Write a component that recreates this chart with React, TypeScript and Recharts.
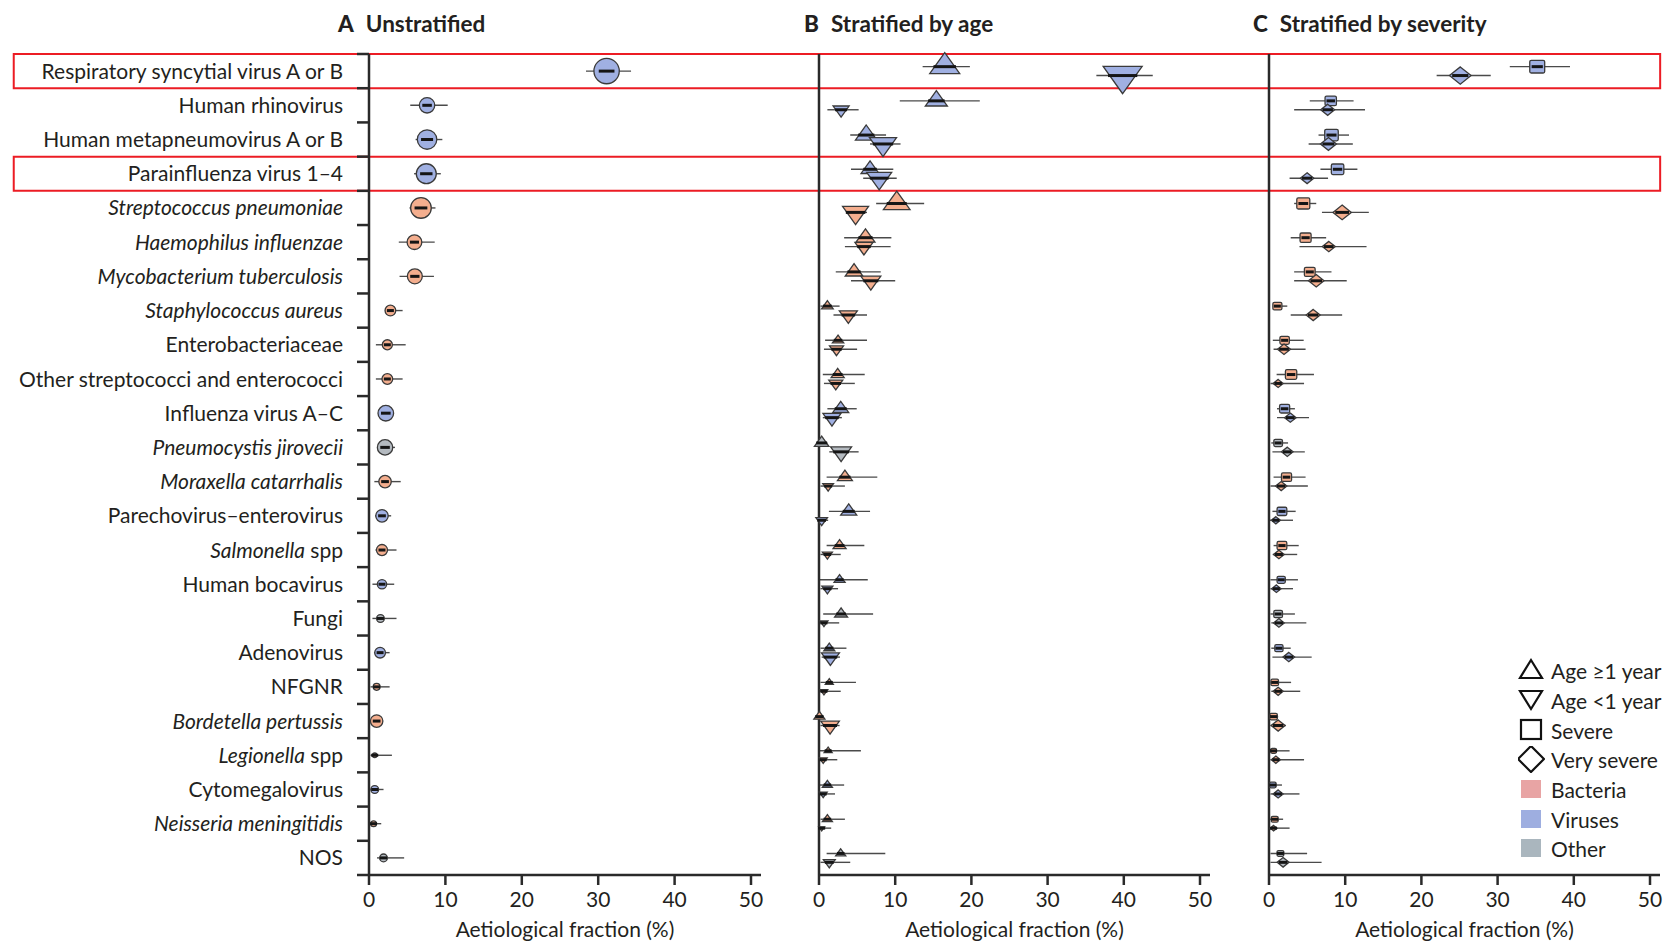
import React from 'react';
import { ScatterChart, Scatter, XAxis, YAxis, ZAxis, ErrorBar, ReferenceArea } from 'recharts';

const FONT = 'Lato, "Open Sans", sans-serif';
const INK = '#231f20';

// rows, top to bottom
const pathogens = [
  'Respiratory syncytial virus A or B', 'Human rhinovirus', 'Human metapneumovirus A or B', 'Parainfluenza virus 1–4',
  'Streptococcus pneumoniae', 'Haemophilus influenzae', 'Mycobacterium tuberculosis', 'Staphylococcus aureus',
  'Enterobacteriaceae', 'Other streptococci and enterococci', 'Influenza virus A–C', 'Pneumocystis jirovecii',
  'Moraxella catarrhalis', 'Parechovirus–enterovirus', 'Salmonella spp', 'Human bocavirus',
  'Fungi', 'Adenovirus', 'NFGNR', 'Bordetella pertussis',
  'Legionella spp', 'Cytomegalovirus', 'Neisseria meningitidis', 'NOS',
];
const italicRows = [
  false, false, false, false, true, true, true, true, false, false, false, true,
  true, false, true, false, false, false, false, true, true, false, true, false,
];
// B = bacteria, V = viruses, O = other
const groups = ['V', 'V', 'V', 'V', 'B', 'B', 'B', 'B', 'B', 'B', 'V', 'O', 'B', 'V', 'B', 'V', 'O', 'V', 'B', 'B', 'B', 'V', 'B', 'O'];
const highlighted = ['Respiratory syncytial virus A or B', 'Parainfluenza virus 1–4'];
const xTicks = [0, 10, 20, 30, 40, 50];

// A: unstratified
const allEst = [31.1, 7.6, 7.6, 7.5, 6.8, 5.95, 6.0, 2.8, 2.4, 2.4, 2.2, 2.1, 2.1, 1.7, 1.7, 1.7, 1.5, 1.45, 1.0, 1.0, 0.75, 0.75, 0.6, 1.9];
const allLo = [28.4, 5.4, 6.1, 5.9, 5.3, 3.9, 4.0, 2.1, 0.9, 0.9, 1.3, 1.05, 0.7, 0.8, 0.85, 0.45, 0.45, 0.65, 0.2, 0.4, 0.2, 0.2, 0.2, 1.05];
const allHi = [34.3, 10.3, 9.6, 9.4, 8.7, 8.6, 8.5, 4.4, 4.8, 4.4, 3.1, 3.4, 4.15, 2.9, 3.6, 3.3, 3.6, 2.7, 2.7, 1.6, 3.0, 1.9, 1.6, 4.6];
const allWt = [95, 35, 56, 59, 63, 32, 33, 17, 15, 17, 36, 35, 23, 23, 18, 13, 9, 17, 7, 23, 3, 9, 5, 9];

// B: age >=1 year
const olderEst = [16.5, 15.4, 6.2, 6.7, 10.2, 6.1, 4.6, 1.1, 2.5, 2.45, 2.85, 0.35, 3.4, 3.9, 2.7, 2.7, 2.9, 1.35, 1.35, 0.05, 1.2, 1.1, 1.1, 2.85];
const olderLo = [13.6, 10.6, 4.1, 4.2, 7.5, 3.3, 2.2, 0.2, 0.8, 0.5, 1.1, 0.0, 1.0, 1.3, 1.0, 0.05, 0.55, 0.2, 0.2, 0.0, 0.1, 0.1, 0.2, 1.0];
const olderHi = [19.8, 21.1, 8.8, 9.75, 13.8, 9.5, 8.1, 2.7, 6.3, 6.0, 4.95, 1.1, 7.65, 6.7, 5.95, 6.4, 7.1, 3.6, 4.85, 0.6, 5.5, 3.3, 3.4, 8.7];
const olderWt = [133, 72, 69, 48, 105, 53, 46, 20, 19, 25, 38, 31, 33, 38, 25, 18, 25, 18, 9.5, 18, 9.5, 15, 15, 15];

// B: age <1 year
const infantEst = [39.85, 2.9, 8.4, 7.9, 4.8, 5.9, 6.8, 3.85, 2.3, 2.2, 1.7, 2.9, 1.2, 0.35, 1.1, 1.1, 0.65, 1.5, 0.65, 1.45, 0.55, 0.55, 0.35, 1.35];
const infantLo = [36.4, 1.1, 6.7, 5.8, 3.6, 3.4, 4.2, 1.9, 0.65, 0.65, 0.5, 1.35, 0.2, 0.0, 0.2, 0.2, 0.1, 0.35, 0.1, 0.2, 0.1, 0.1, 0.05, 0.2];
const infantHi = [43.8, 5.2, 10.7, 10.2, 6.3, 9.4, 10.0, 6.3, 5.0, 4.7, 3.0, 5.2, 3.4, 1.2, 2.85, 2.5, 2.65, 2.75, 2.85, 2.7, 2.4, 2.1, 1.6, 4.1];
const infantWt = [225, 38, 108, 92, 100, 48, 59, 48, 29, 29, 48, 65, 17, 20, 15, 18, 9.5, 48, 8.5, 51, 9.5, 9.5, 5, 21];

// C: severe
const severeEst = [35.2, 8.1, 8.2, 9.0, 4.5, 4.8, 5.35, 1.1, 2.05, 2.9, 2.05, 1.2, 2.3, 1.7, 1.7, 1.6, 1.2, 1.3, 0.75, 0.6, 0.6, 0.5, 0.75, 1.5];
const severeLo = [31.6, 5.35, 6.5, 6.75, 3.3, 2.85, 3.3, 0.5, 0.5, 1.0, 1.05, 0.3, 0.6, 0.45, 0.6, 0.2, 0.2, 0.3, 0.2, 0.2, 0.1, 0.1, 0.1, 0.2];
const severeHi = [39.5, 11.1, 10.5, 11.6, 6.2, 7.5, 8.2, 2.4, 4.55, 5.9, 3.4, 2.5, 4.8, 3.5, 3.9, 3.8, 3.4, 2.85, 2.9, 1.2, 2.7, 1.7, 1.85, 5.0];
const severeWt = [33, 19, 27, 23, 25, 18, 17, 12, 13, 19, 15, 11, 15, 14, 14, 10, 11, 10, 8.5, 8.5, 5, 6.5, 7, 7];

// C: very severe
const verySevereEst = [25.1, 7.7, 7.8, 5.0, 9.6, 7.85, 6.2, 5.8, 1.97, 1.2, 2.8, 2.4, 1.6, 0.9, 1.3, 0.97, 1.3, 2.6, 1.2, 1.2, 0.9, 1.2, 0.6, 1.85];
const verySevereLo = [22.0, 3.3, 5.2, 2.7, 6.95, 4.0, 3.3, 2.85, 0.6, 0.2, 1.05, 0.45, 0.2, 0.1, 0.5, 0.2, 0.3, 0.45, 0.3, 0.2, 0.2, 0.2, 0.1, 0.2];
const verySevereHi = [29.1, 12.6, 11.0, 7.75, 13.1, 12.8, 10.2, 9.6, 4.8, 4.6, 5.25, 4.7, 5.1, 3.15, 3.7, 3.15, 4.9, 5.6, 4.1, 2.2, 4.6, 4.0, 2.7, 6.9];
const verySevereWt = [69, 29, 38, 27, 50, 25, 36, 29, 25, 15, 20, 20, 19, 12, 17, 13, 17, 20, 15, 29, 12, 15, 7, 21];

const FILL: Record<string, string> = { B: '#f4ae8e', V: '#a0b0e2', O: '#b4bac0' };
const SWATCH: Record<string, string> = { B: '#e8a4a4', V: '#9eaee0', O: '#aab6be' };

const TOP = 54;
const BOTTOM = 875;
const H = 946;
const X_AXIS_H = 65;
const ROW_H = (BOTTOM - TOP) / pathogens.length;
const rowTicks = pathogens.map((_, i) => i).concat(pathogens.length);

const build = (est: number[], lo: number[], hi: number[], wt: number[], offset: number) =>
  est.map((v, i) => ({ x: v, y: i + offset, err: [v - lo[i], hi[i] - v], wt: wt[i], group: groups[i] }));

type Kind = 'circle' | 'up' | 'down' | 'square' | 'diamond';

const makeShape = (kind: Kind) => (props: any) => {
  const { cx, cy, payload } = props;
  const r = props.size ? Math.sqrt(props.size / Math.PI) : (props.width || 8) / 2;
  const fill = FILL[payload.group];
  const st = { fill, stroke: '#3a3a3a', strokeWidth: 1.3 };
  let mark: React.ReactNode;
  let half = Math.max(r * 0.75, 3.5);
  if (kind === 'circle') {
    mark = <circle cx={cx} cy={cy} r={r} {...st} />;
    half = Math.max(r * 0.62, 3.5);
  } else if (kind === 'up' || kind === 'down') {
    const h = r * 1.4;
    const s = kind === 'up' ? 1 : -1;
    const pts = `${cx},${cy - s * (2 * h) / 3} ${cx - r},${cy + s * h / 3} ${cx + r},${cy + s * h / 3}`;
    mark = <polygon points={pts} {...st} />;
  } else if (kind === 'square') {
    mark = <rect x={cx - r} y={cy - r * 0.85} width={2 * r} height={r * 1.7} rx={1.5} {...st} />;
  } else {
    const hh = r * 0.8;
    mark = <polygon points={`${cx},${cy - hh} ${cx + r},${cy} ${cx},${cy + hh} ${cx - r},${cy}`} {...st} />;
  }
  return (
    <g>
      {mark}
      <line x1={cx - half} x2={cx + half} y1={cy} y2={cy} stroke="#151515" strokeWidth={3} />
    </g>
  );
};

const RowLabel = (props: any) => {
  const { x, y, payload } = props;
  const i = payload.value;
  if (i >= pathogens.length) return null;
  const name = pathogens[i];
  const ty = y + ROW_H / 2;
  const common = { x, y: ty, dy: '0.36em', textAnchor: 'end' as const, fontSize: 21, fontFamily: FONT, fill: INK };
  if (italicRows[i] && name.endsWith(' spp')) {
    return (
      <text {...common}>
        <tspan fontStyle="italic">{name.slice(0, -4)}</tspan>
        <tspan> spp</tspan>
      </text>
    );
  }
  return <text {...common} fontStyle={italicRows[i] ? 'italic' : 'normal'}>{name}</text>;
};

const axisStroke = { stroke: '#2a2a2a', strokeWidth: 2.5 };

type Series = { data: any[]; kind: Kind };

function Panel({ left, width, yWidth, plotRight, series, labels, boxes }: {
  left: number; width: number; yWidth: number; plotRight: number; series: Series[]; labels?: boolean; boxes?: boolean;
}) {
  const rightMargin = left + width - plotRight;
  return (
    <div style={{ position: 'absolute', left, top: 0, width, height: H }}>
      <ScatterChart width={width} height={H} margin={{ top: TOP, right: rightMargin, bottom: H - BOTTOM - X_AXIS_H, left: 0 }}>
        <XAxis
          type="number"
          dataKey="x"
          domain={[0, 50]}
          ticks={xTicks}
          interval={0}
          padding={{ left: 0, right: 10 }}
          height={X_AXIS_H}
          tickSize={10}
          tickMargin={7}
          axisLine={axisStroke}
          tickLine={axisStroke}
          tick={{ fontSize: 21, fontFamily: FONT, fill: INK }}
          label={{ value: 'Aetiological fraction (%)', position: 'insideBottom', offset: 3, fontSize: 21, fontFamily: FONT, fill: INK }}
        />
        <YAxis
          type="number"
          dataKey="y"
          domain={[0, pathogens.length]}
          reversed
          ticks={rowTicks}
          interval={0}
          width={yWidth}
          tickSize={12}
          tickMargin={14}
          axisLine={axisStroke}
          tickLine={axisStroke}
          tick={labels ? <RowLabel /> : false}
        />
        <ZAxis type="number" dataKey="wt" domain={[0, 250]} range={[0, 1327]} />
        {boxes &&
          highlighted.map((name) => {
            const i = pathogens.indexOf(name);
            return (
              <ReferenceArea
                key={name}
                x1={-46.5}
                x2={169}
                y1={i}
                y2={i + 1}
                ifOverflow="visible"
                fill="none"
                fillOpacity={0}
                stroke="#ec1c24"
                strokeWidth={2}
              />
            );
          })}
        {series.map((s, k) => (
          <Scatter key={k} data={s.data} shape={makeShape(s.kind)} isAnimationActive={false}>
            <ErrorBar dataKey="err" direction="x" width={0} stroke="#4a4a4a" strokeWidth={1.4} />
          </Scatter>
        ))}
      </ScatterChart>
    </div>
  );
}

const Title = ({ x, letter, text }: { x: number; letter: string; text: string }) => (
  <div style={{ position: 'absolute', left: x, top: 10, fontFamily: FONT, fontSize: 22.5, fontWeight: 700, color: INK, whiteSpace: 'nowrap', lineHeight: '28px' }}>
    <span style={{ fontWeight: 900 }}>{letter}</span>
    <span style={{ marginLeft: 12 }}>{text}</span>
  </div>
);

const legendItems: { kind: string; label: string }[] = [
  { kind: 'up', label: 'Age ≥1 year' },
  { kind: 'down', label: 'Age <1 year' },
  { kind: 'square', label: 'Severe' },
  { kind: 'diamond', label: 'Very severe' },
  { kind: 'B', label: 'Bacteria' },
  { kind: 'V', label: 'Viruses' },
  { kind: 'O', label: 'Other' },
];

const LegendIcon = ({ kind }: { kind: string }) => {
  const st = { fill: 'none', stroke: '#111', strokeWidth: 2.2 };
  let el: React.ReactNode;
  if (kind === 'up') el = <polygon points="13,3 2,21 24,21" {...st} />;
  else if (kind === 'down') el = <polygon points="2,4 24,4 13,22" {...st} />;
  else if (kind === 'square') el = <rect x={3} y={3} width={20} height={19} {...st} />;
  else if (kind === 'diamond') el = <polygon points="13,0 26,13 13,26 0,13" {...st} />;
  else el = <rect x={3} y={4} width={20} height={18} fill={SWATCH[kind]} />;
  return (
    <svg width={27} height={27} style={{ display: 'block' }}>
      {el}
    </svg>
  );
};

export default function App() {
  const panelA: Series[] = [{ data: build(allEst, allLo, allHi, allWt, 0.5), kind: 'circle' }];
  const panelB: Series[] = [
    { data: build(olderEst, olderLo, olderHi, olderWt, 0.37), kind: 'up' },
    { data: build(infantEst, infantLo, infantHi, infantWt, 0.63), kind: 'down' },
  ];
  const panelC: Series[] = [
    { data: build(severeEst, severeLo, severeHi, severeWt, 0.37), kind: 'square' },
    { data: build(verySevereEst, verySevereLo, verySevereHi, verySevereWt, 0.63), kind: 'diamond' },
  ];
  return (
    <div style={{ position: 'absolute', left: 0, top: 0, width: 1668, height: H, background: '#fff', overflow: 'hidden' }}>
      <Panel left={0} width={1668} yWidth={369} plotRight={761} series={panelA} labels boxes />
      <Panel left={790} width={440} yWidth={29} plotRight={1210} series={panelB} />
      <Panel left={1240} width={428} yWidth={29} plotRight={1660} series={panelC} />
      <Title x={338} letter="A" text="Unstratified" />
      <Title x={804} letter="B" text="Stratified by age" />
      <Title x={1253} letter="C" text="Stratified by severity" />
      <div style={{ position: 'absolute', left: 1518, top: 656, fontFamily: FONT, fontSize: 21, color: INK }}>
        {legendItems.map((it) => (
          <div key={it.label} style={{ display: 'flex', alignItems: 'center', height: 29.7 }}>
            <LegendIcon kind={it.kind} />
            <span style={{ marginLeft: 6, whiteSpace: 'nowrap' }}>{it.label}</span>
          </div>
        ))}
      </div>
    </div>
  );
}
